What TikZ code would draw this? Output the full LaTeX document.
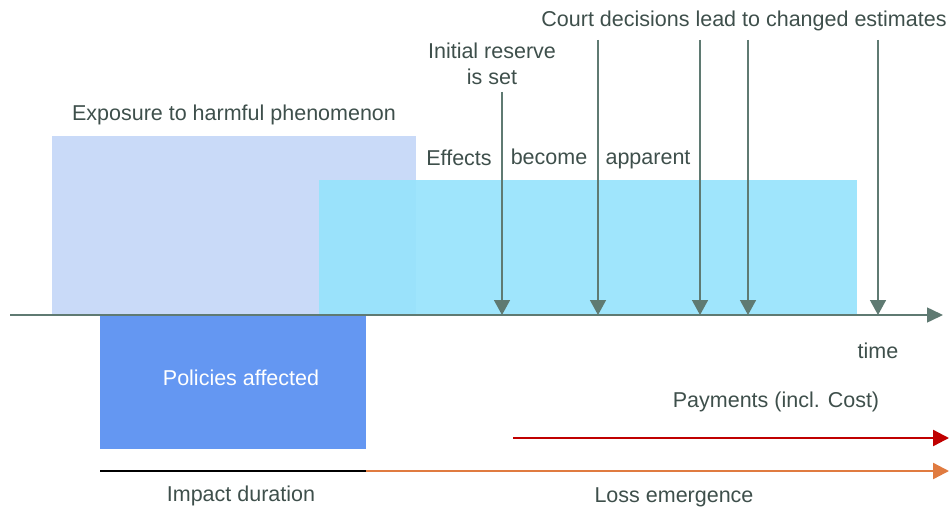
\documentclass[tikz,border=0pt]{standalone}
\usepackage{fontspec}
\setmainfont{Liberation Sans}
\usepackage{xcolor}
\usetikzlibrary{arrows.meta}

\definecolor{txtgrey}{HTML}{3E4F4B}
\definecolor{axisgrey}{HTML}{5F7A72}
\definecolor{exposure}{HTML}{C9DAF8}
\definecolor{effects}{HTML}{97E3FC}
\definecolor{policies}{HTML}{6497F2}
\definecolor{payred}{HTML}{C00000}
\definecolor{lossorange}{HTML}{E07B40}

\tikzset{
  lbl/.style={text=txtgrey, font=\fontsize{21.5}{26}\selectfont, inner sep=0pt},
  eventarrow/.style={draw=axisgrey, line width=1.5pt, -{Triangle[length=15pt,width=16pt]}},
}

\begin{document}
\begin{tikzpicture}[x=1pt,y=-1pt]
        \useasboundingbox (0,0) rectangle (949,508);
        % boxes
        \fill[exposure] (52,136) rectangle (416,316);
        \fill[effects, fill opacity=0.92] (319,180) rectangle (857,315);
        \fill[policies] (100,315) rectangle (366,449);
        % time axis
        \coordinate(t0) at (10,315);
        \coordinate(t1) at (943,315);
        \draw[draw=axisgrey, line width=1.5pt, -{Triangle[length=16pt,width=15pt]}] (t0)--(t1);
        \node[lbl](time) at (878,351) {time};
        % labels
        \node[lbl](exp) at (234,115) {Exposure to harmful phenomenon};
        \node[lbl](eff1) at (459,158) {Effects};
        \node[lbl](eff2) at (549,157) {become};
        \node[lbl](eff3) at (648,160) {apparent};
        \node[lbl, text=white](pol) at (241,378) {Policies affected};
        \node[lbl, align=center](init) at (492,64) {Initial reserve\\is set};
        \node[lbl](court) at (744,21) {Court decisions lead to changed estimates};
        % reserve and court arrows
        \coordinate(c1) at (598,40);
        \coordinate(c2) at (700,40);
        \coordinate(c3) at (748,40);
        \coordinate(c4) at (878,40);
        \draw[eventarrow] (502,92)--(502,315);
        \foreach \c in {c1,c2,c3,c4}
          \draw[eventarrow] (\c)--(\c |- t0);
        % payments and emergence
        \node[lbl](pay) at (776,402) {Payments (incl. Cost)};
        \coordinate(p0) at (513,438);
        \coordinate(p1) at (949,438);
        \draw[payred, line width=2.3pt, -{Triangle[length=16pt,width=16pt]}] (p0)--(p1);
        \coordinate(i0) at (100,471);
        \coordinate(i1) at (366,471);
        \coordinate(l1) at (949,471);
        \draw[black, line width=2.3pt] (i0)--(i1);
        \draw[lossorange, line width=2.3pt, -{Triangle[length=16pt,width=16pt]}] (i1)--(l1);
        \node[lbl](imp) at (241,496) {Impact duration};
        \node[lbl](loss) at (674,497) {Loss emergence};
        \end{tikzpicture}
\end{document}
